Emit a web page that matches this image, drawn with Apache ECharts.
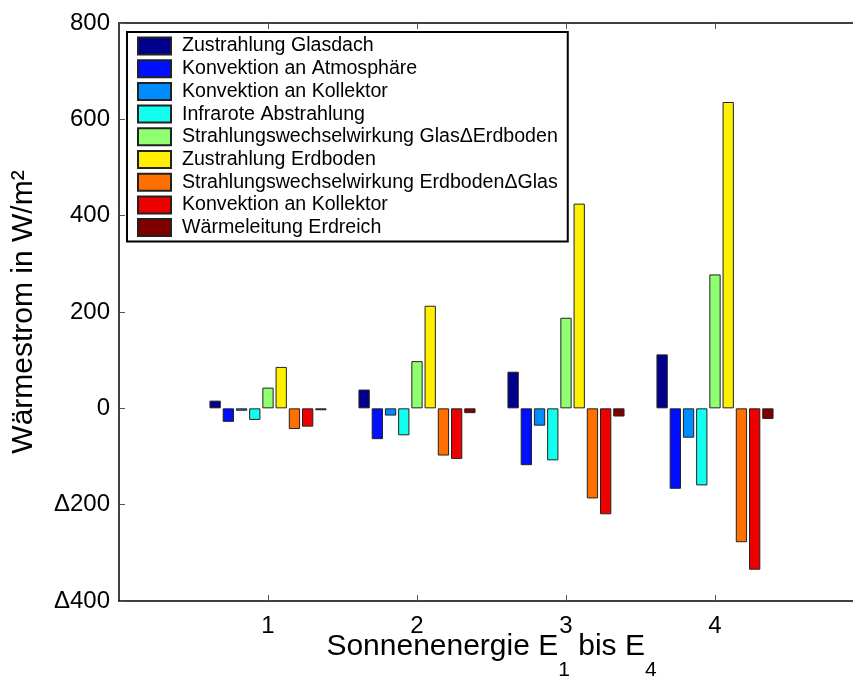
<!DOCTYPE html>
<html>
<head>
<meta charset="utf-8">
<script src="https://cdn.jsdelivr.net/npm/echarts@6/dist/echarts.min.js"></script>
<style>
  html, body { margin: 0; padding: 0; background: #fff; }
  #chart { width: 853px; height: 678px; }
</style>
</head>
<body>
<div id="chart"></div>
<script>
// Sonnenenergie-Stufen E1 .. E4
const stufen = [1, 2, 3, 4];

// Wärmeströme in W/m² je Stufe
const zustrahlungGlasdach   = [16, 39, 76, 112];
const konvektionAtmosphaere = [-28, -64, -118, -167];
const konvektionKollektorA  = [-5, -15, -36, -61];
const infraroteAbstrahlung  = [-24, -56, -108, -160];
const wechselGlasErdboden   = [43, 98, 188, 278];
const zustrahlungErdboden   = [86, 213, 425, 636];
const wechselErdbodenGlas   = [-43, -98, -187, -278];
const konvektionKollektorB  = [-38, -105, -220, -335];
const waermeleitungErdreich = [-4, -10, -17, -22];

const reihen = [
  { name: 'Zustrahlung Glasdach', data: zustrahlungGlasdach, color: '#00008C' },
  { name: 'Konvektion an Atmosphäre', data: konvektionAtmosphaere, color: '#0010FF' },
  { name: 'Konvektion an Kollektor', data: konvektionKollektorA, color: '#008CFF' },
  { name: 'Infrarote Abstrahlung', data: infraroteAbstrahlung, color: '#10FFEF' },
  { name: 'Strahlungswechselwirkung Glas\u0394Erdboden', data: wechselGlasErdboden, color: '#90FF70' },
  { name: 'Zustrahlung Erdboden', data: zustrahlungErdboden, color: '#FFEF00' },
  { name: 'Strahlungswechselwirkung Erdboden\u0394Glas', data: wechselErdbodenGlas, color: '#FF7000' },
  // trailing space keeps the legend entry separate from the first "Konvektion an Kollektor"
  { name: 'Konvektion an Kollektor ', data: konvektionKollektorB, color: '#EE0000' },
  { name: 'Wärmeleitung Erdreich', data: waermeleitungErdreich, color: '#800000' }
];

const FONT = 'Liberation Sans, Arial, Helvetica, sans-serif';

const chart = echarts.init(document.getElementById('chart'), null, { renderer: 'canvas' });

chart.setOption({
  animation: false,
  backgroundColor: '#fff',
  textStyle: { fontFamily: FONT },
  grid: { left: 119, top: 23, width: 745, height: 578, containLabel: false, outerBoundsMode: 'none' },
  legend: {
    orient: 'vertical',
    left: 127,
    top: 32,
    padding: [4, 10, 4, 10],
    itemWidth: 33,
    itemHeight: 17,
    itemGap: 2.7,
    borderColor: '#000',
    borderWidth: 2,
    backgroundColor: '#fff',
    icon: 'rect',
    textStyle: { fontFamily: FONT, fontSize: 19.6, color: '#000', padding: [0, 0, 0, 6] },
    data: reihen.map(r => r.name)
  },
  xAxis: [
    {
      type: 'value',
      position: 'bottom',
      min: 0,
      max: 5,
      interval: 1,
      splitLine: { show: false },
      axisLine: { show: true, onZero: false, lineStyle: { color: '#000', width: 1.5 } },
      axisTick: { show: true, inside: true, length: 6, customValues: stufen, lineStyle: { color: '#555' } },
      axisLabel: { show: true, customValues: stufen, margin: 13, fontSize: 24, color: '#000', fontFamily: FONT },
      name: '{m|Sonnenenergie E}{s|1}{m| bis E}{s|4}',
      nameLocation: 'middle',
      nameGap: 31,
      nameMoveOverlap: false,
      nameTextStyle: {
        fontFamily: FONT,
        color: '#000',
        rich: {
          m: { fontSize: 30, lineHeight: 34, verticalAlign: 'top', fontFamily: FONT, color: '#000' },
          s: { fontSize: 21, verticalAlign: 'top', padding: [27.5, 0, 0, 0], fontFamily: FONT, color: '#000' }
        }
      }
    },
    {
      type: 'value',
      position: 'top',
      min: 0,
      max: 5,
      interval: 1,
      splitLine: { show: false },
      axisLine: { show: true, onZero: false, lineStyle: { color: '#000', width: 1.5 } },
      axisTick: { show: true, inside: true, length: 6, customValues: stufen, lineStyle: { color: '#555' } },
      axisLabel: { show: false }
    }
  ],
  yAxis: {
    type: 'value',
    min: -400,
    max: 800,
    interval: 200,
    splitLine: { show: false },
    axisLine: { show: true, onZero: false, lineStyle: { color: '#000', width: 1.5 } },
    axisTick: { show: true, inside: true, length: 6, lineStyle: { color: '#555' } },
    axisLabel: {
      margin: 9,
      fontSize: 24,
      color: '#000',
      fontFamily: FONT,
      formatter: v => (v < 0 ? '\u0394' + Math.abs(v) : String(v))
    },
    name: 'Wärmestrom in W/m²',
    nameLocation: 'middle',
    nameGap: 80,
    nameMoveOverlap: false,
    nameTextStyle: { fontSize: 30, color: '#000', fontFamily: FONT }
  },
  series: reihen.map(r => ({
    type: 'bar',
    name: r.name,
    xAxisIndex: 0,
    barWidth: 11.3,
    barGap: '17%',
    data: r.data.map((v, i) => [stufen[i], v]),
    itemStyle: { color: r.color, borderColor: '#222', borderWidth: 1 }
  }))
});
</script>
</body>
</html>
